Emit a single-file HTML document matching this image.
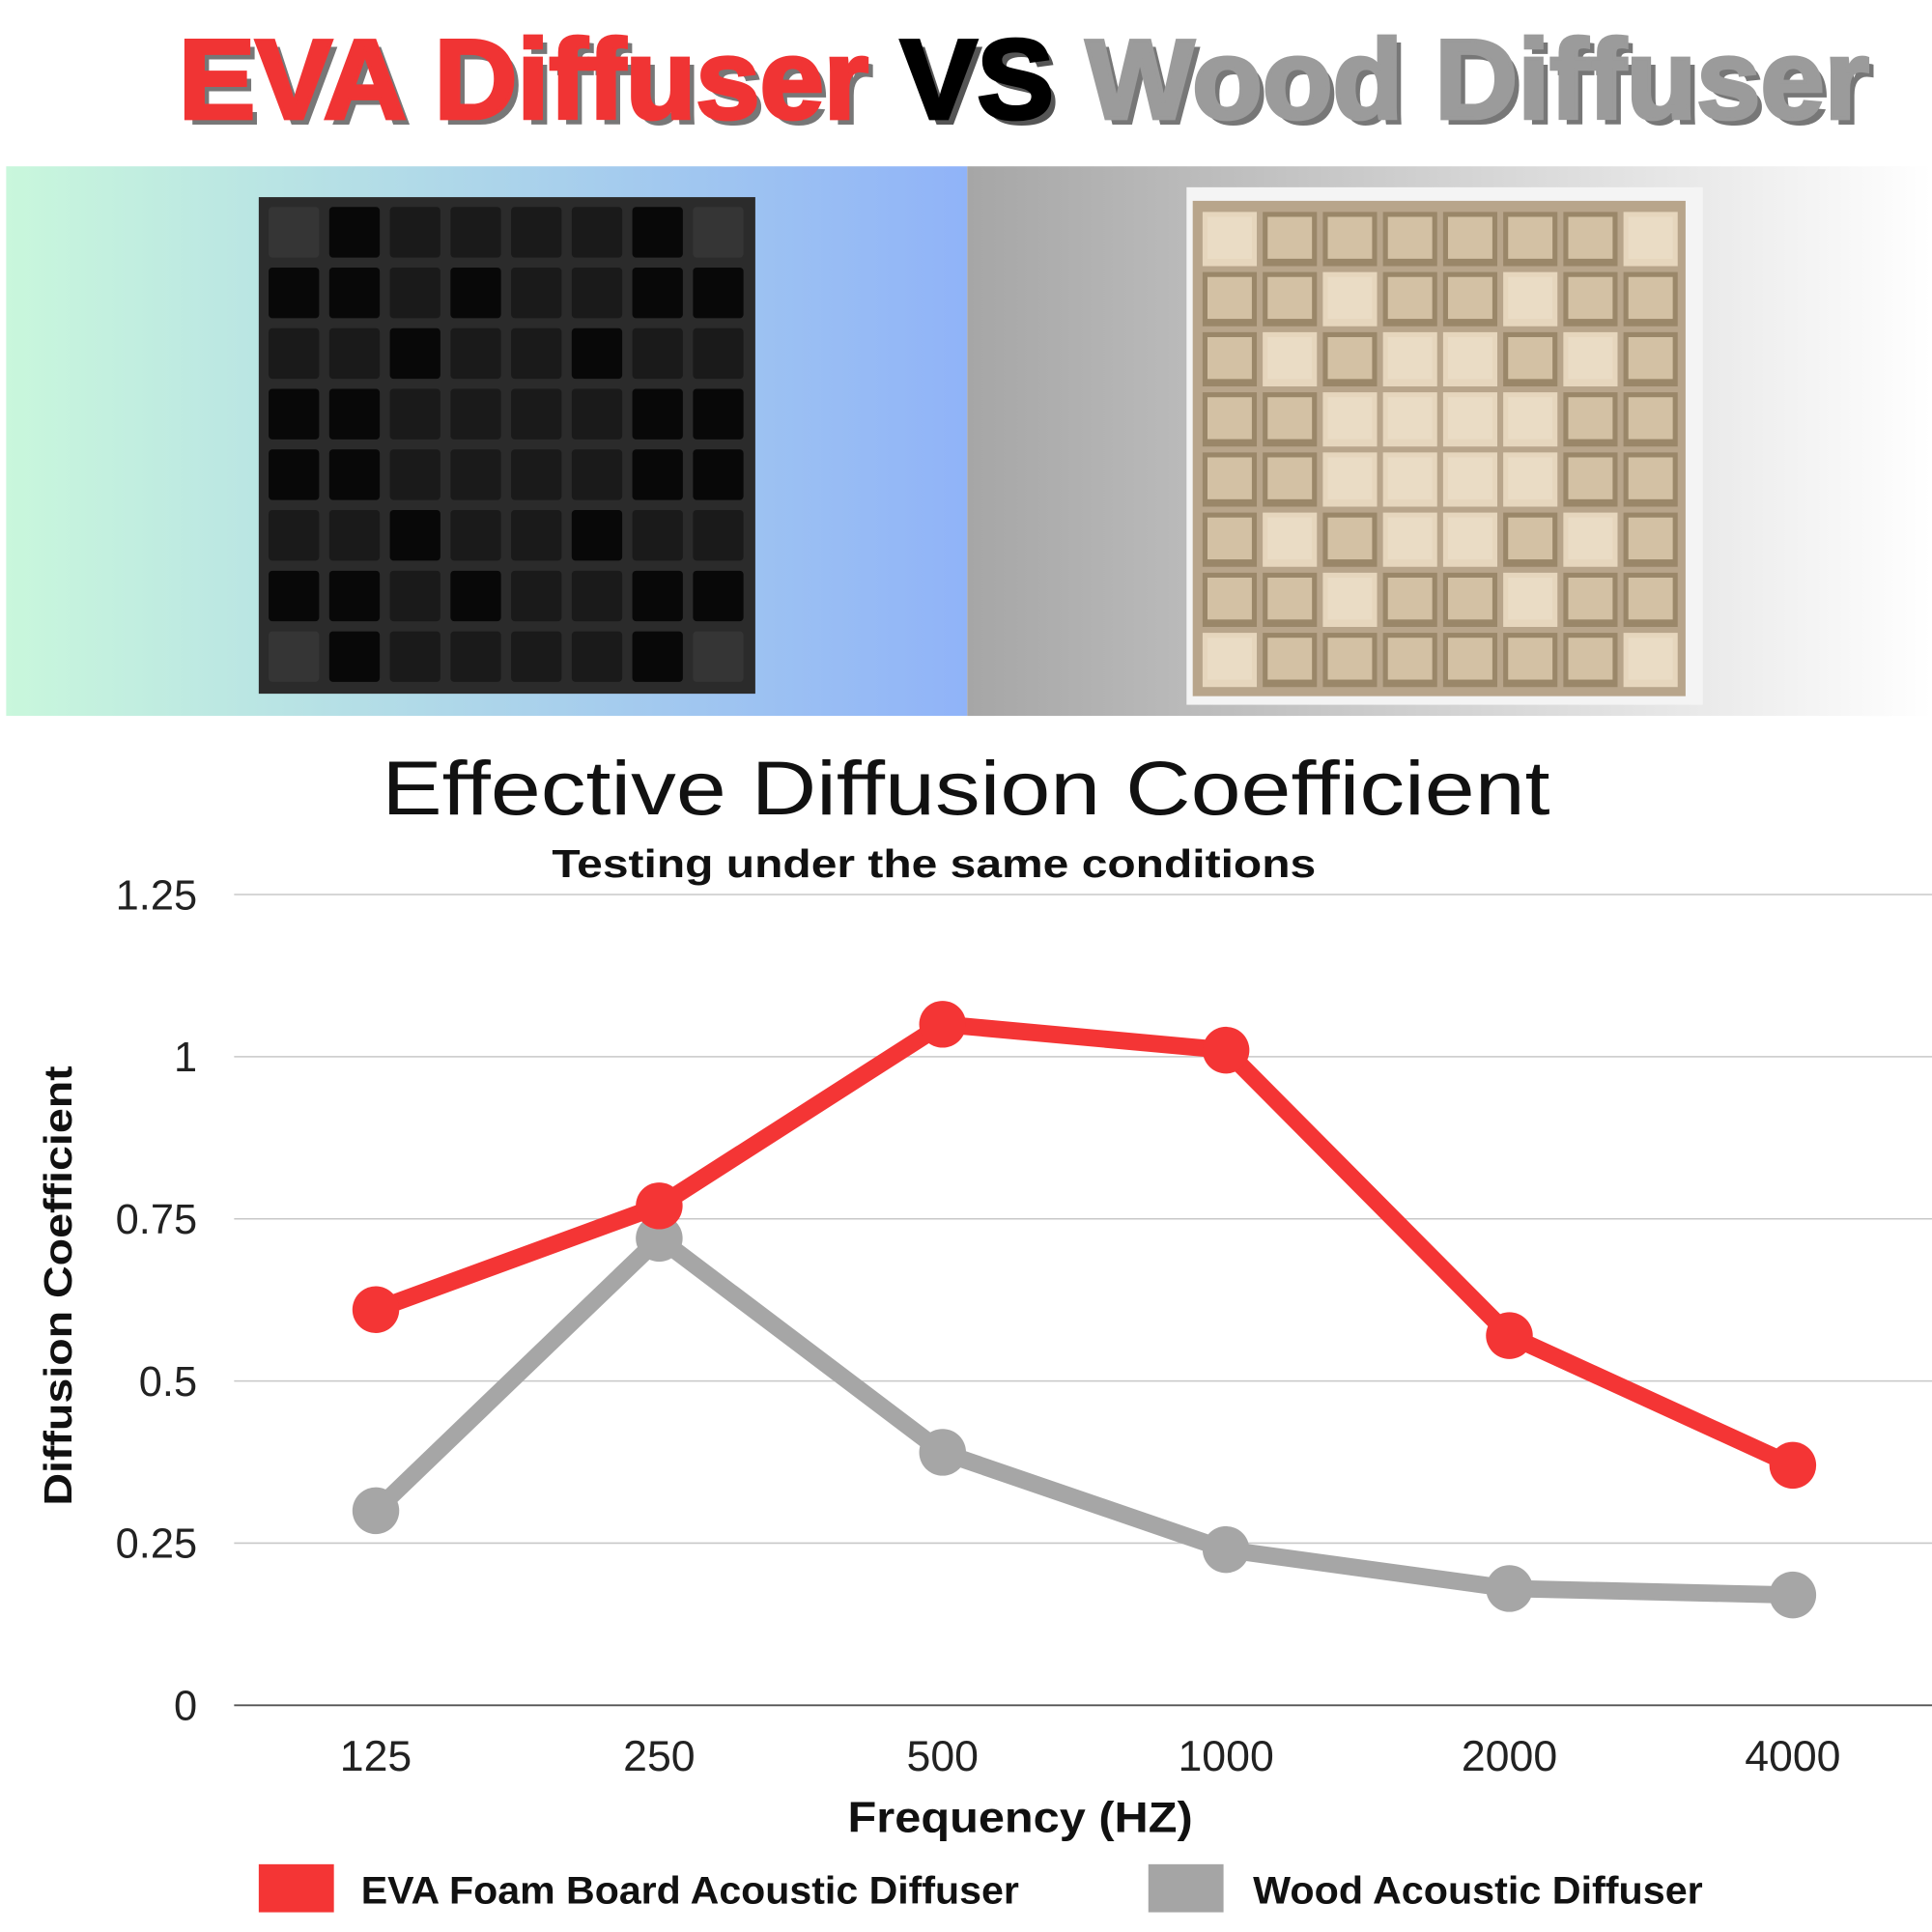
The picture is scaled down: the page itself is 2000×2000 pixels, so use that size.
<!DOCTYPE html>
<html><head><meta charset="utf-8"><style>
html,body{margin:0;padding:0;background:#fff}
svg{display:block}
text{font-family:"Liberation Sans",sans-serif}
</style></head><body>
<svg id="chart" width="2000" height="2000" viewBox="0 0 1568 1568" xmlns="http://www.w3.org/2000/svg">
<defs>
<linearGradient id="gL" x1="0" x2="1"><stop offset="0" stop-color="#c9f7dc"/><stop offset="1" stop-color="#90b3f8"/></linearGradient>
<linearGradient id="gR" x1="0" x2="1"><stop offset="0" stop-color="#a6a6a6"/><stop offset="1" stop-color="#ffffff"/></linearGradient>
</defs>
<rect width="1568" height="1568" fill="#fff"/>
<g font-weight="bold" font-size="92">
<text x="150" y="101" fill="#777" textLength="1372" lengthAdjust="spacingAndGlyphs">EVA Diffuser <tspan fill="#555">VS</tspan> Wood Diffuser</text>
<text x="145" y="96" fill="#f03434" stroke="#f03434" stroke-width="3" textLength="1372" lengthAdjust="spacingAndGlyphs">EVA Diffuser <tspan fill="#000" stroke="#000">VS</tspan> <tspan fill="#9b9b9b" stroke="#9b9b9b">Wood Diffuser</tspan></text>
</g>
<rect x="5" y="135" width="780" height="446" fill="url(#gL)"/>
<rect x="785" y="135" width="783" height="446" fill="url(#gR)"/>
<g id="eva"><rect x="210" y="160" width="403" height="403" fill="#2b2b2b"/></g>
<g id="wood"><rect x="963" y="152" width="419" height="420" fill="#f4f4f4"/><rect x="968" y="163" width="400" height="402" fill="#b8a58b"/></g>
<text x="310" y="661" font-size="62" fill="#111" textLength="948" lengthAdjust="spacingAndGlyphs">Effective Diffusion Coefficient</text>
<text x="448" y="712" font-size="32" font-weight="bold" fill="#111" textLength="620" lengthAdjust="spacingAndGlyphs">Testing under the same conditions</text>
<g id="grid"></g>
<g id="series"></g>
<text x="688" y="1487" font-size="35" font-weight="bold" fill="#111" textLength="280" lengthAdjust="spacingAndGlyphs">Frequency (HZ)</text>
<text transform="translate(58,1222) rotate(-90)" font-size="32" font-weight="bold" fill="#111" textLength="357" lengthAdjust="spacingAndGlyphs">Diffusion Coefficient</text>
<g>
<rect x="210" y="1513" width="61" height="39" fill="#f43535"/>
<text x="293" y="1545" font-size="31" font-weight="bold" fill="#111" textLength="534" lengthAdjust="spacingAndGlyphs">EVA Foam Board Acoustic Diffuser</text>
<rect x="932" y="1513" width="61" height="39" fill="#a5a5a5"/>
<text x="1017" y="1545" font-size="31" font-weight="bold" fill="#111" textLength="365" lengthAdjust="spacingAndGlyphs">Wood Acoustic Diffuser</text>
</g>
</svg>
<script>
const categories = ["125","250","500","1000","2000","4000"];
const evaValues = [0.61, 0.77, 1.05, 1.01, 0.57, 0.37];
const woodValues = [0.30, 0.72, 0.39, 0.24, 0.18, 0.17];
const yTicks = [0, 0.25, 0.5, 0.75, 1, 1.25];
const yTickLabels = ["0","0.25","0.5","0.75","1","1.25"];

const NS = "http://www.w3.org/2000/svg";
function xs(i){ return 305 + i*230; }
function ys(v){ return 1384 - v*526.4; }
function mk(tag, attrs, parent){ const e=document.createElementNS(NS,tag); for(const k in attrs) e.setAttribute(k,attrs[k]); parent.appendChild(e); return e; }

const grid = document.getElementById('grid');
yTicks.forEach((t,i)=>{
  const l = mk('line',{x1:190,x2:1568,y1:ys(t),y2:ys(t),stroke:i===0?'#555':'#c8c8c8','stroke-width':i===0?1.5:1.2},grid);
  
  
  const tx = mk('text',{x:160,y:ys(t)+12,'text-anchor':'end','font-size':34,fill:'#222'},grid);
  tx.textContent = yTickLabels[i];
  
  
});
categories.forEach((c,i)=>{
  const tx = mk('text',{x:xs(i),y:1437,'text-anchor':'middle','font-size':35,fill:'#222'},grid);
  tx.textContent = c;
  
  
});
const ser = document.getElementById('series');
function drawSeries(vals,color,name){
  const g = mk('g',{},ser);
  
  
  const pl = mk('polyline',{points:vals.map((v,i)=>xs(i)+','+ys(v)).join(' '),fill:'none',stroke:color,'stroke-width':14,'stroke-linejoin':'round'},g);
  
  
  vals.forEach((v,i)=>{
    const c = mk('circle',{cx:xs(i),cy:ys(v),r:19,fill:color},g);
    
    
  });
}
drawSeries(woodValues,'#a6a6a6','wood');
drawSeries(evaValues,'#f43535','eva');

const eva = document.getElementById('eva');
const deep = [[0,1,0,0,0,0,1,0],[1,1,0,1,0,0,1,1],[0,0,1,0,0,1,0,0],[1,1,0,0,0,0,1,1],[1,1,0,0,0,0,1,1],[0,0,1,0,0,1,0,0],[1,1,0,1,0,0,1,1],[0,1,0,0,0,0,1,0]];
for(let r=0;r<8;r++)for(let c=0;c<8;c++){
  const corner=(r===0||r===7)&&(c===0||c===7);
  mk('rect',{x:218+c*49.2,y:168+r*49.2,width:41,height:41,rx:3,fill:corner?'#353535':(deep[r][c]?'#080808':'#1a1a1a')},eva);
}
const wood = document.getElementById('wood');
const light = [[1,0,0,0,0,0,0,1],[0,0,1,0,0,1,0,0],[0,1,0,1,1,0,1,0],[0,0,1,1,1,1,0,0],[0,0,1,1,1,1,0,0],[0,1,0,1,1,0,1,0],[0,0,1,0,0,1,0,0],[1,0,0,0,0,0,0,1]];
for(let r=0;r<8;r++)for(let c=0;c<8;c++){
  mk('rect',{x:976+c*48.8,y:172+r*48.8,width:44,height:44,fill:light[r][c]?'#e6d6bd':'#9a8769'},wood);
  mk('rect',{x:980+c*48.8,y:176+r*48.8,width:36,height:34,fill:light[r][c]?'#eadcc5':'#d3c1a4'},wood);
}
</script>
</body></html>
